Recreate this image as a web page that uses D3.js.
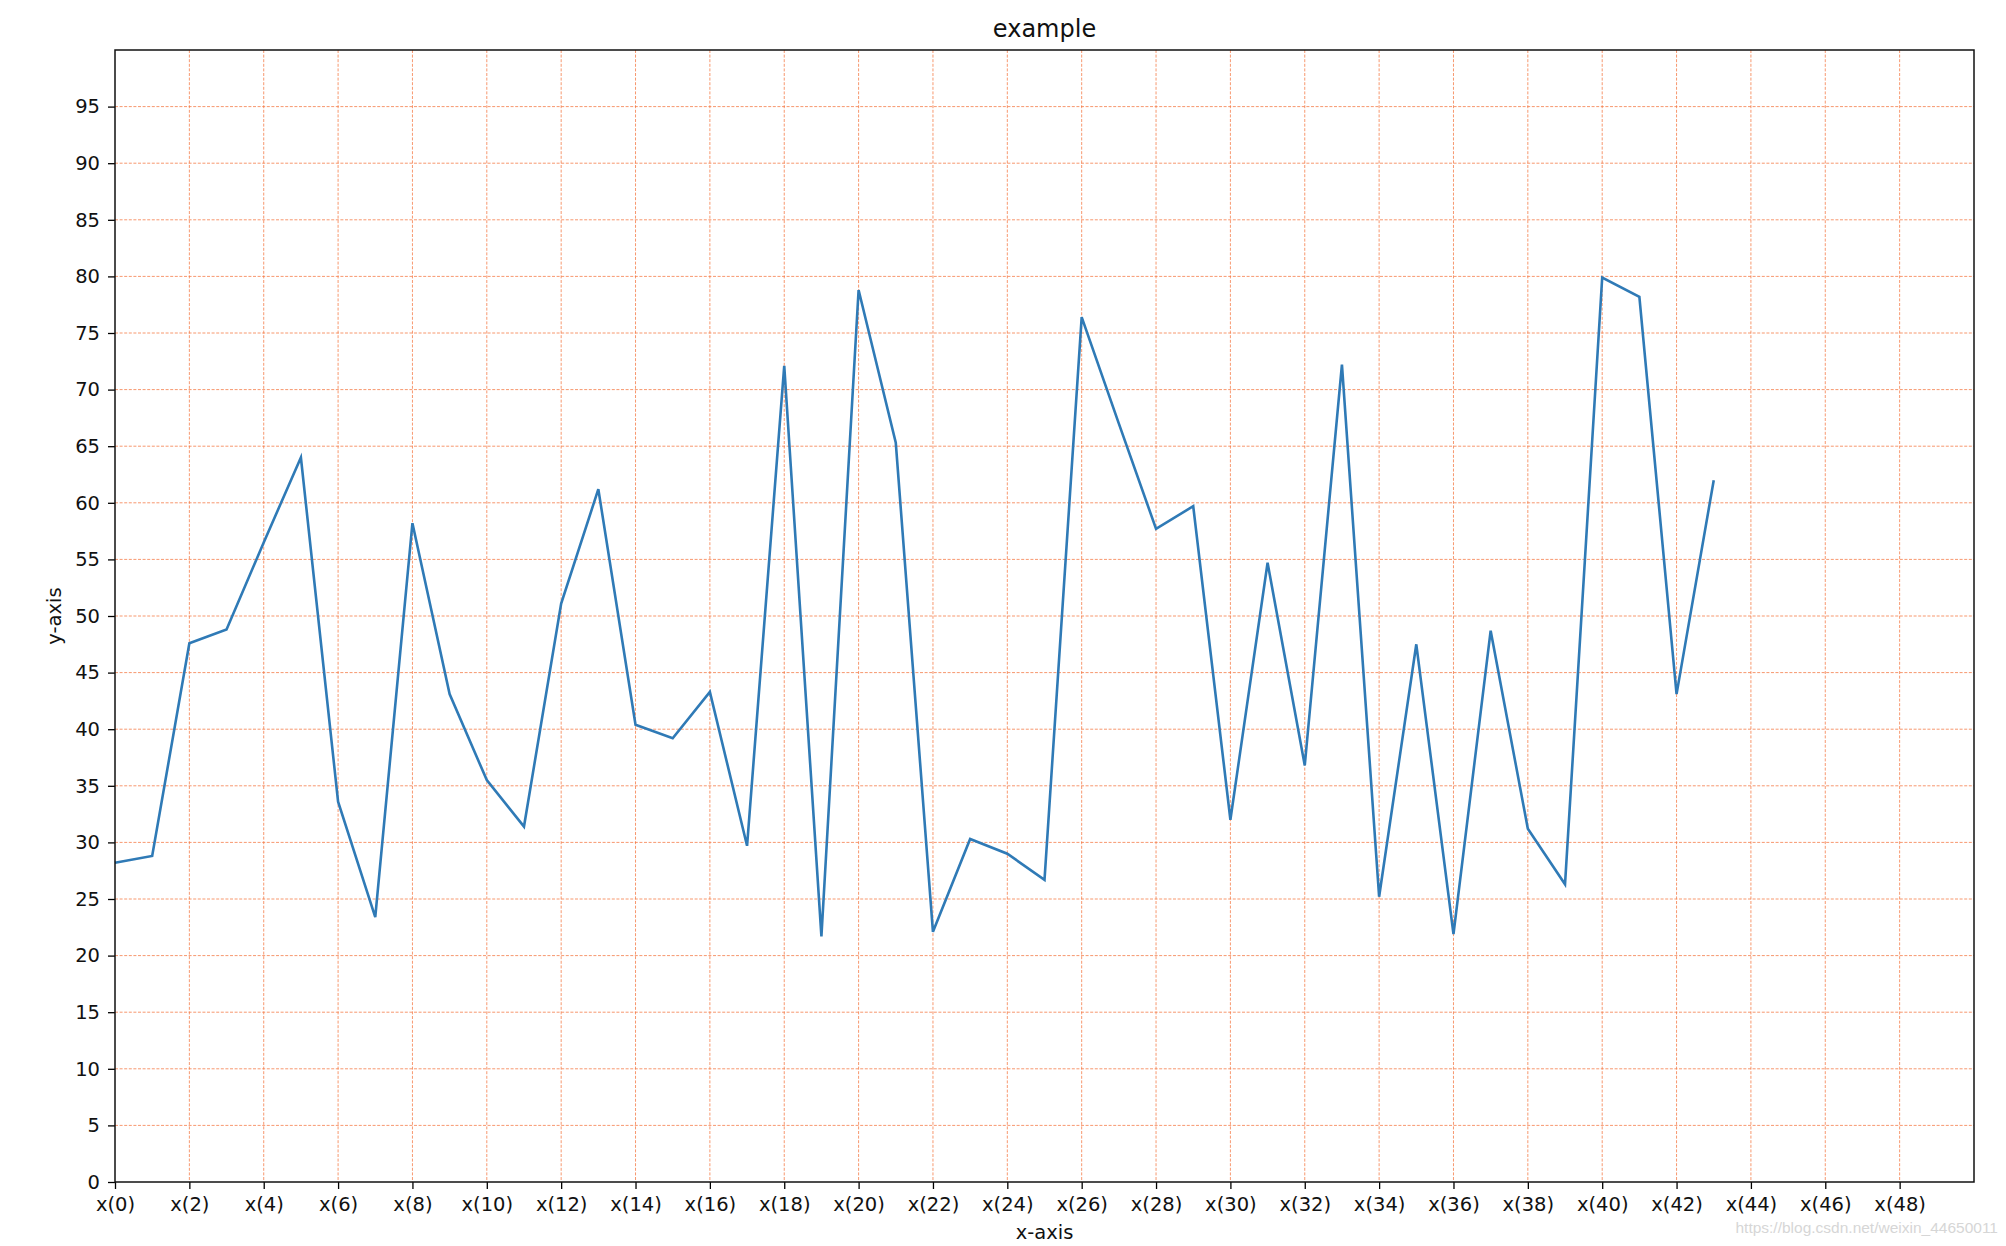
<!DOCTYPE html>
<html>
<head>
<meta charset="utf-8">
<script src="https://cdn.jsdelivr.net/npm/d3@7"></script>
<style>
  html, body { margin: 0; padding: 0; background: #fff; }
  svg { display: block; font-family: "DejaVu Sans", sans-serif; }
</style>
</head>
<body>
<svg id="chart" width="2006" height="1246"></svg>
<script>
// valores: un punto por cada x entero
const xIdx = d3.range(44);
const yVals = [28.2, 28.8, 47.6, 48.8, 56.5, 64.0, 33.6, 23.4, 58.2, 43.1,
  35.5, 31.4, 51.1, 61.2, 40.4, 39.2, 43.3, 29.7, 72.1, 21.7,
  78.8, 65.3, 22.1, 30.3, 29.0, 26.7, 76.4, 67.0, 57.7, 59.7,
  32.0, 54.7, 36.8, 72.2, 25.2, 47.5, 21.9, 48.7, 31.2, 26.3,
  79.9, 78.2, 43.1, 62.0];
const xTicks = d3.range(0, 50, 2);
const xTickLabels = xTicks.map(v => `x(${v})`);
const yTicks = d3.range(0, 100, 5);

const svg = d3.select('#chart');
const m = { left: 115, right: 1974, top: 50, bottom: 1182 };

const x = d3.scaleLinear().domain([0, 50]).range([m.left, m.right]);
const y = d3.scaleLinear().domain([0, 100]).range([m.bottom, m.top]);

const GRID = '#f4753f';

// rejilla
const grid = svg.append('g');
grid.selectAll('line.gx').data(xTicks.slice(1)).join('line')
  .attr('x1', d => x(d)).attr('x2', d => x(d))
  .attr('y1', m.top).attr('y2', m.bottom)
  .attr('stroke', GRID).attr('stroke-opacity', 0.75)
  .attr('stroke-width', 1).attr('stroke-dasharray', '3,1.6');
grid.selectAll('line.gy').data(yTicks.slice(1)).join('line')
  .attr('x1', m.left).attr('x2', m.right)
  .attr('y1', d => y(d)).attr('y2', d => y(d))
  .attr('stroke', GRID).attr('stroke-opacity', 0.75)
  .attr('stroke-width', 1).attr('stroke-dasharray', '3,1.6');

// serie
const line = d3.line().x((d, i) => x(xIdx[i])).y(d => y(d));
svg.append('path').datum(yVals)
  .attr('d', line)
  .attr('fill', 'none')
  .attr('stroke', '#2f7ab6')
  .attr('stroke-width', 2.6)
  .attr('stroke-linejoin', 'miter');

// ejes
const xAxis = svg.append('g').attr('transform', `translate(0,${m.bottom})`)
  .call(d3.axisBottom(x).tickValues(xTicks).tickFormat((d, i) => xTickLabels[i]).tickSize(7).tickPadding(8));
const yAxis = svg.append('g').attr('transform', `translate(${m.left},0)`)
  .call(d3.axisLeft(y).tickValues(yTicks).tickSize(7).tickPadding(8));
[xAxis, yAxis].forEach(a => {
  a.select('.domain').remove();
  a.selectAll('.tick line').attr('stroke', '#000').attr('stroke-width', 1.3);
  a.selectAll('.tick text').attr('fill', '#111').style('font-size', '19.5px')
    .attr('font-family', '"DejaVu Sans", sans-serif');
});

// marco
svg.append('rect')
  .attr('x', m.left).attr('y', m.top)
  .attr('width', m.right - m.left).attr('height', m.bottom - m.top)
  .attr('fill', 'none').attr('stroke', '#111').attr('stroke-width', 1.5);

// textos
svg.append('text').attr('x', (m.left + m.right) / 2).attr('y', 37)
  .attr('text-anchor', 'middle').style('font-size', '24px').attr('fill', '#111')
  .text('example');
svg.append('text').attr('x', (m.left + m.right) / 2).attr('y', 1239)
  .attr('text-anchor', 'middle').style('font-size', '19.5px').attr('fill', '#111')
  .text('x-axis');
svg.append('text')
  .attr('transform', `translate(61,${(m.top + m.bottom) / 2}) rotate(-90)`)
  .attr('text-anchor', 'middle').style('font-size', '19.5px').attr('fill', '#111')
  .text('y-axis');

// marca de agua
svg.append('text').attr('x', 1998).attr('y', 1233)
  .attr('text-anchor', 'end').attr('font-family', '"Liberation Sans", Arial, sans-serif')
  .style('font-size', '15.5px').attr('fill', '#d6d6d6')
  .text('https://blog.csdn.net/weixin_44650011');
</script>
</body>
</html>
